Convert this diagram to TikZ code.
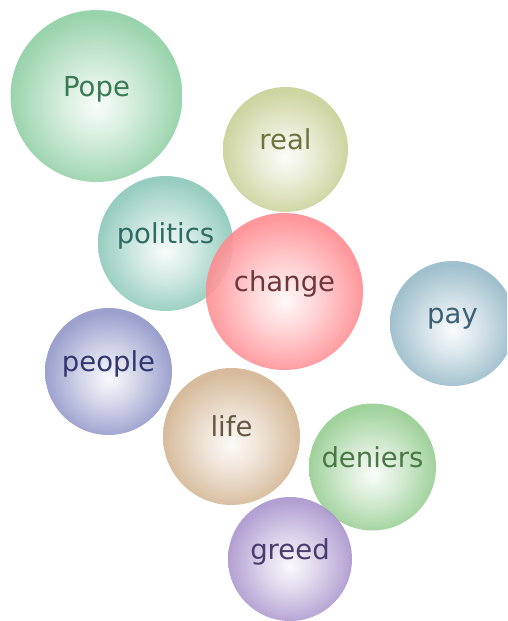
\documentclass[tikz,border=0pt]{standalone}
\usepackage{fontspec}
\setmainfont{DejaVu Sans}
\usepackage{xcolor}
\usepackage{tikz}
\usetikzlibrary{shadings}

\definecolor{popeg}{HTML}{8FCFA4}  \definecolor{popet}{HTML}{3A7A52}
\definecolor{realg}{HTML}{C8D096}  \definecolor{realt}{HTML}{6E7341}
\definecolor{polig}{HTML}{8CC8B9}  \definecolor{polit}{HTML}{2F6B60}
\definecolor{chang}{HTML}{FF8C91}  \definecolor{chant}{HTML}{6E373C}
\definecolor{payg}{HTML}{96B9C8}   \definecolor{payt}{HTML}{3C5F73}
\definecolor{peopg}{HTML}{9196C8}  \definecolor{peopt}{HTML}{32376E}
\definecolor{lifeg}{HTML}{D2B491}  \definecolor{lifet}{HTML}{695841}
\definecolor{denig}{HTML}{96CD91}  \definecolor{denit}{HTML}{4B7846}
\definecolor{greeg}{HTML}{AA96CD}  \definecolor{greet}{HTML}{4B3C6E}

\colorlet{bubblecol}{gray}
\pgfdeclareradialshading[bubblecol]{bubble}{\pgfpoint{0bp}{-3bp}}{%
  color(0bp)=(bubblecol!6!white);
  color(10bp)=(bubblecol!40!white); color(20bp)=(bubblecol!80!white);
  color(25bp)=(bubblecol); color(50bp)=(bubblecol)}

\tikzset{
  bubble color/.code={\colorlet{bubblecol}{#1}},
  bubble/.style={circle, inner sep=0pt, text height=0pt, text depth=0pt,
    shading=bubble, bubble color=#1, fill opacity=0.9, text opacity=1,
    font=\fontsize{27.5pt}{32pt}\selectfont}
}

\begin{document}
\begin{tikzpicture}[x=1pt, y=-1pt]
\clip (0,0) rectangle (507,621);

\node (pope) [bubble=popeg, text=popet, minimum size=172pt] at (96.5,96) {Pope};
\node (real) [bubble=realg, text=realt, minimum size=125pt] at (285.5,149.5) {real};
\node (politics) [bubble=polig, text=polit, minimum size=135pt] at (165.5,243.5) {politics};
\node (change) [bubble=chang, text=chant, minimum size=157pt] at (284.5,291.5) {change};
\node (pay) [bubble=payg, text=payt, minimum size=125pt] at (452.5,323.5) {pay};
\node (people) [bubble=peopg, text=peopt, minimum size=127pt] at (108.5,371.5) {people};
\node (life) [bubble=lifeg, text=lifet, minimum size=137pt] at (231.5,436.5) {life};
\node (deniers) [bubble=denig, text=denit, minimum size=127pt] at (372.5,467) {deniers};
\node (greed) [bubble=greeg, text=greet, minimum size=124pt] at (290,559) {greed};
\end{tikzpicture}
\end{document}
